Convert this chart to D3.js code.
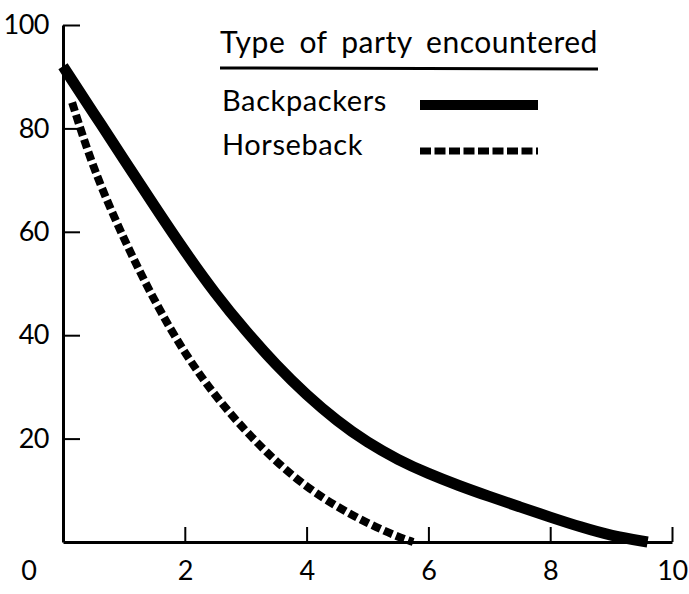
<!DOCTYPE html>
<html>
<head>
<meta charset="utf-8">
<script src="https://cdnjs.cloudflare.com/ajax/libs/d3/7.8.5/d3.min.js"></script>
<style>
  body { margin: 0; background: #fff; }
  text { font-family: Lato, "Noto Sans", sans-serif; fill: #000; }
</style>
</head>
<body>
<div id="d3_div"></div>
<script>
// Values.
var xTicks = [2, 4, 6, 8, 10];
var yTicks = [20, 40, 60, 80, 100];

var backpackersX = [0, 0.5, 1, 1.5, 2, 2.5, 3, 3.5, 4, 4.5, 5, 5.5, 6, 6.5, 7, 7.5, 8, 8.5, 9, 9.6];
var backpackersY = [92, 83, 74, 65, 56.2, 48, 40.8, 34.2, 28.4, 23.4, 19.2, 15.9, 13.2, 10.9, 8.8, 6.8, 4.8, 2.9, 1.2, 0];

var horsebackX = [0.15, 0.5, 1, 1.5, 2, 2.5, 3, 3.5, 4, 4.5, 5, 5.5, 5.75];
var horsebackY = [85, 72, 58.5, 46.6, 36.4, 28.2, 21.4, 15.5, 10.6, 6.8, 3.6, 1, 0];

var legendTitle = "Type of party encountered";
var seriesNames = ["Backpackers", "Horseback"];

// Plot area
var margin = {top: 25, right: 17, bottom: 52, left: 63},
    width = 689 - margin.left - margin.right,
    height = 594 - margin.top - margin.bottom;

var svg = d3.select("#d3_div")
  .append("svg")
    .attr("width", 689)
    .attr("height", 594)
  .append("g")
    .attr("transform", "translate(" + margin.left + "," + margin.top + ")");

var x = d3.scaleLinear().domain([0, 10]).range([0, width]);
var y = d3.scaleLinear().domain([0, 100]).range([height, 0]);

// axes, ticks point inward
svg.append("g")
  .attr("transform", "translate(0," + height + ")")
  .call(d3.axisBottom(x).tickValues(xTicks).tickSizeInner(-15).tickSizeOuter(0).tickPadding(19));

svg.append("g")
  .call(d3.axisLeft(y).tickValues(yTicks).tickSizeInner(-17).tickSizeOuter(0).tickPadding(14));

svg.selectAll(".domain").attr("stroke", "#000").attr("stroke-width", 3);
svg.selectAll(".tick line").attr("stroke", "#000").attr("stroke-width", 2);
svg.selectAll(".tick text")
  .attr("font-size", 27)
  .attr("letter-spacing", -0.5)
  .attr("font-family", "Lato, 'Noto Sans', sans-serif")
  .attr("fill", "#000");

// the corner "0"
svg.append("text")
  .attr("x", x(0) - 34)
  .attr("y", height + 19)
  .attr("dy", "0.71em")
  .attr("font-size", 27)
  .attr("text-anchor", "middle")
  .text("0");

var line = d3.line()
  .x(function(d) { return x(d[0]) })
  .y(function(d) { return y(d[1]) })
  .curve(d3.curveBasis);

svg.append("path")
  .datum(d3.zip(horsebackX, horsebackY))
  .attr("fill", "none")
  .attr("stroke", "#000")
  .attr("stroke-width", 8)
  .attr("stroke-dasharray", "9,4")
  .attr("d", line);

svg.append("path")
  .datum(d3.zip(backpackersX, backpackersY))
  .attr("fill", "none")
  .attr("stroke", "#000")
  .attr("stroke-width", 11)
  .attr("d", line);

// Legend
var legend = svg.append("g")
  .attr("transform", "translate(" + (220 - margin.left) + "," + (53 - margin.top) + ")");

legend.append("text")
  .attr("x", 0)
  .attr("y", 0)
  .attr("font-size", 30)
  .attr("letter-spacing", 0.5)
  .attr("word-spacing", 6)
  .text(legendTitle);

legend.append("line")
  .attr("x1", 0).attr("x2", 378)
  .attr("y1", 15).attr("y2", 16)
  .attr("stroke", "#000")
  .attr("stroke-width", 3);

var entries = legend.selectAll(".entry")
  .data(seriesNames)
  .enter()
  .append("g")
    .attr("transform", function(d, i) { return "translate(2," + (58 + i * 44) + ")" });

entries.append("text")
  .attr("font-size", 29)
  .attr("letter-spacing", 0.6)
  .text(function(d) { return d });

entries.append("line")
  .attr("x1", 198).attr("x2", 316)
  .attr("y1", function(d, i) { return i == 0 ? -6 : -4 })
  .attr("y2", function(d, i) { return i == 0 ? -6 : -4 })
  .attr("stroke", "#000")
  .attr("stroke-width", function(d, i) { return i == 0 ? 10 : 7 })
  .attr("stroke-dasharray", function(d, i) { return i == 0 ? null : "11,3.5" });
</script>
</body>
</html>
